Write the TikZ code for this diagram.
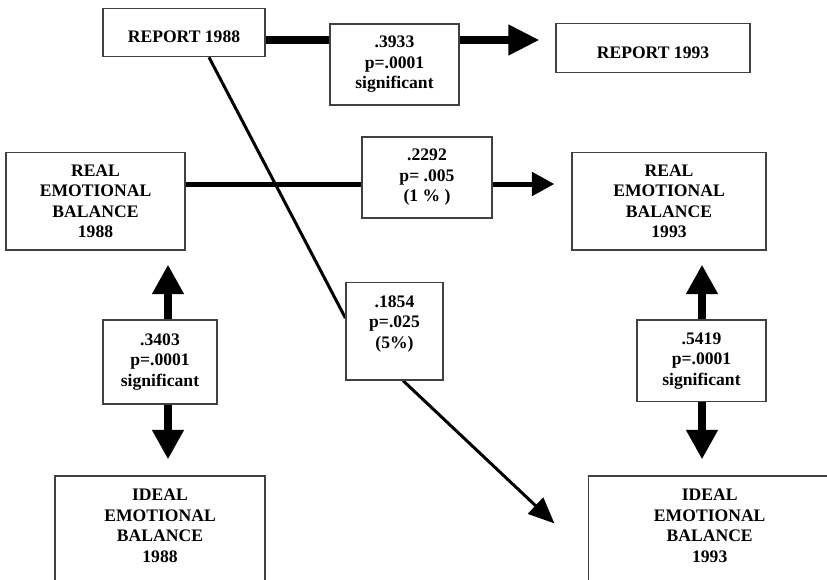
\documentclass[tikz,border=0pt]{standalone}
\usepackage{fontspec}
\setmainfont{Liberation Serif}
\usetikzlibrary{arrows.meta,calc}
\pgfdeclarelayer{back}
\pgfsetlayers{back,main}
\begin{document}
\begin{tikzpicture}[x=1pt,y=-1pt,
  every node/.style={font=\fontsize{17.6}{20.5}\selectfont\bfseries},
  box/.style={draw=black!75, line width=1.2pt, fill=white, inner sep=0pt, align=center},
  boldlink/.style={line width=7.3pt, -{Triangle[length=31pt,width=29pt]}},
  midlink/.style={line width=5pt, -{Triangle[length=22.5pt,width=23pt]}},
  twoway/.style={line width=7.5pt, {Triangle[length=29.5pt,width=30pt]}-{Triangle[length=29.5pt,width=30pt]}},
  thinlink/.style={line width=3pt},
  thinarrow/.style={line width=3pt, -{Triangle[length=26pt,width=22pt]}}]

\useasboundingbox (0,0) rectangle (827,579);
\begin{pgfonlayer}{back}
  \fill[white] (0,0) rectangle (827,579);
\end{pgfonlayer}

\begin{scope}
\clip (0,0) rectangle (827,579);

% variables
\node[box, minimum width=162pt, minimum height=48.4pt, text height=20pt, text depth=0pt] (r88) at (184,32.5) {REPORT 1988};
\node[box, minimum width=194pt, minimum height=49.4pt, text height=21.7pt, text depth=0pt] (r93) at (653,48) {REPORT 1993};
\node[box, minimum width=179pt, minimum height=97.5pt] (re88) at (95.5,201.25) {REAL\\EMOTIONAL\\BALANCE\\1988};
\node[box, minimum width=194pt, minimum height=97.5pt] (re93) at (669,201.25) {REAL\\EMOTIONAL\\BALANCE\\1993};
\node[box] (i88) at (160,536)
  {\parbox[c][120pt][t]{210pt}{\centering\rule{0pt}{24.5pt}IDEAL\\EMOTIONAL\\BALANCE\\1988}};
\node[box] (i93) at (709.7,536)
  {\parbox[c][120pt][t]{242pt}{\centering\rule{0pt}{24.5pt}IDEAL\\EMOTIONAL\\BALANCE\\1993}};

% coefficients
\node[box, minimum width=129pt, minimum height=81pt] (c3933) at (394.5,64.5) {.3933\\p=.0001\\significant};
\node[box, minimum width=130pt, minimum height=81pt] (c2292) at (427,177.5) {.2292\\p= .005\\(1 \% )};
\node[box] (c1854) at (394.5,331.25)
  {\parbox[c][97.5pt][t]{97pt}{\centering\rule{0pt}{24.5pt}.1854\\p=.025\\(5\%)}};
\node[box, minimum width=114pt, minimum height=84pt] (c3403) at (160,362) {.3403\\p=.0001\\significant};
\node[box, minimum width=129pt, minimum height=81.5pt] (c5419) at (701.5,360.75) {.5419\\p=.0001\\significant};
\end{scope}

% connectors, behind the boxes
\begin{pgfonlayer}{back}
  \coordinate (tipA) at ($(r93.west)+(-16,-8)$);
  \coordinate (tipB) at ($(re93.west)+(-17,-17.25)$);
  \coordinate (tipC) at ($(i93.north west)+(-33.7,48)$);
  \draw[boldlink] ($(r88.east)+(0,7.5)$) -- (tipA);
  \draw[midlink] ($(re88.east)+(0,-17.25)$) -- (tipB);
  \draw[thinlink] ($(r88.south)+(25,0)$) -- ($(c1854.west)+(0,-13.25)$);
  \draw[thinarrow] ($(c1854.south)+(8.5,0)$) -- (tipC);
  \draw[twoway, shorten <=14pt, shorten >=16pt] ($(re88.south)+(72.5,0)$) -- ($(i88.north)+(8,0)$);
  \draw[twoway, shorten <=14pt, shorten >=16pt] ($(re93.south)+(33,0)$) -- ($(i93.north)+(-7.7,0)$);
\end{pgfonlayer}
\end{tikzpicture}
\end{document}
